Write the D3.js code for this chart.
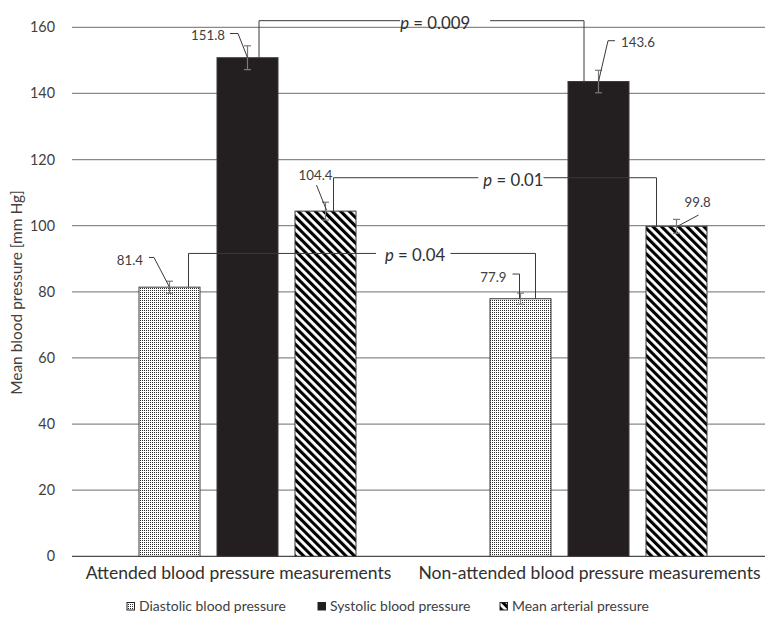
<!DOCTYPE html>
<html>
<head>
<meta charset="utf-8">
<script src="https://cdn.jsdelivr.net/npm/d3@7/dist/d3.min.js"></script>
<style>
  html, body { margin: 0; padding: 0; background: #fff; }
  svg { display: block; font-family: Lato, "Open Sans", sans-serif; }
</style>
</head>
<body>
<svg id="chart" width="765" height="617"></svg>
<script>
// ---------------- data ----------------
const categories = ["Attended blood pressure measurements", "Non-attended blood pressure measurements"];
const seriesNames = ["Diastolic blood pressure", "Systolic blood pressure", "Mean arterial pressure"];
const diastolic = [81.4, 77.9];
const systolic = [150.8, 143.6];
const meanArterial = [104.4, 99.8];
const diastolicErr = [1.8, 1.7];
const systolicErr = [3.6, 3.4];
const meanArterialErr = [2.7, 2.1];
const diastolicLabels = ["81.4", "77.9"];
const systolicLabels = ["151.8", "143.6"];
const meanArterialLabels = ["104.4", "99.8"];
const yTicks = [0, 20, 40, 60, 80, 100, 120, 140, 160];
const pLabels = ["0.04", "0.009", "0.01"];
const pSeries = ["Diastolic blood pressure", "Systolic blood pressure", "Mean arterial pressure"];
const yTitle = "Mean blood pressure [mm Hg]";

// ---------------- layout ----------------
const W = 765, H = 617;
const svg = d3.select("#chart");

const x0 = d3.scaleBand().domain(categories).range([72, 774]).padding(0);
const bw = x0.bandwidth();
const x1 = d3.scaleBand().domain(seriesNames)
  .range([bw / 2 - 117, bw / 2 + 117]).paddingInner(17 / 78).paddingOuter(17 / 156);
const y = d3.scaleLinear().domain([0, 160]).range([556.3, 27.3]);

const values = { [seriesNames[0]]: diastolic, [seriesNames[1]]: systolic, [seriesNames[2]]: meanArterial };
const errs = { [seriesNames[0]]: diastolicErr, [seriesNames[1]]: systolicErr, [seriesNames[2]]: meanArterialErr };
const labels = { [seriesNames[0]]: diastolicLabels, [seriesNames[1]]: systolicLabels, [seriesNames[2]]: meanArterialLabels };

const rows = [];
categories.forEach((c, ci) => seriesNames.forEach((s, si) => rows.push({
  cat: c, ci, ser: s, si, v: values[s][ci], e: errs[s][ci], label: labels[s][ci]
})));
const cx = d => x0(d.cat) + x1(d.ser) + x1.bandwidth() / 2;

// ---------------- patterns ----------------
const defs = svg.append("defs");
const dots = defs.append("pattern").attr("id", "dots").attr("patternUnits", "userSpaceOnUse")
  .attr("width", 2).attr("height", 2);
dots.append("rect").attr("width", 2).attr("height", 2).attr("fill", "#fff");
dots.append("rect").attr("width", 1).attr("height", 1).attr("fill", "#2a2a2a");

const hatch = defs.append("pattern").attr("id", "hatch").attr("patternUnits", "userSpaceOnUse")
  .attr("width", 6).attr("height", 6).attr("patternTransform", "rotate(-45)");
hatch.append("rect").attr("width", 6).attr("height", 6).attr("fill", "#fff");
hatch.append("rect").attr("width", 3.1).attr("height", 6).attr("fill", "#000");

const fills = { [seriesNames[0]]: "url(#dots)", [seriesNames[1]]: "#231f20", [seriesNames[2]]: "url(#hatch)" };

function fit(sel, target) {
  const w = sel.node().getComputedTextLength();
  const fs = parseFloat(sel.attr("font-size"));
  return fs * target / w;
}

// ---------------- grid + y ticks ----------------
const grid = svg.append("g");
grid.selectAll("line").data(yTicks).join("line")
  .attr("x1", 72).attr("x2", W)
  .attr("y1", d => y(d)).attr("y2", d => y(d))
  .attr("stroke", d => d === 0 ? "#4a4a4a" : "#8a8a8a")
  .attr("stroke-width", 1.3);

const tickG = svg.append("g");
const tickTexts = tickG.selectAll("text").data(yTicks).join("text")
  .attr("x", 55).attr("y", d => y(d)).attr("dy", "0.35em")
  .attr("text-anchor", "end").attr("fill", "#404040").attr("font-size", 14)
  .text(d => d);
const tickFs = fit(tickTexts.filter(d => d === 120), 25);
tickTexts.attr("font-size", tickFs);

// y title
const yt = svg.append("text")
  .attr("transform", `translate(17,${(190 + 395) / 2}) rotate(-90)`)
  .attr("text-anchor", "middle").attr("dy", "0.35em")
  .attr("fill", "#404040").attr("font-size", 13).text(yTitle);
yt.attr("font-size", fit(yt, 205));

// ---------------- bars ----------------
svg.append("g").selectAll("rect").data(rows).join("rect")
  .attr("x", d => x0(d.cat) + x1(d.ser))
  .attr("width", x1.bandwidth())
  .attr("y", d => y(d.v))
  .attr("height", d => y(0) - y(d.v))
  .attr("fill", d => fills[d.ser])
  .attr("stroke", "#3a3a3a").attr("stroke-width", 1);

// ---------------- error bars ----------------
const eb = svg.append("g").attr("stroke", "#7a7a7a").attr("stroke-width", 1.2);
rows.forEach(d => {
  const c = cx(d), t = y(d.v + d.e), b = y(d.v - d.e);
  eb.append("line").attr("x1", c).attr("x2", c).attr("y1", t).attr("y2", b);
  eb.append("line").attr("x1", c - 3.5).attr("x2", c + 3.5).attr("y1", t).attr("y2", t);
  eb.append("line").attr("x1", c - 3.5).attr("x2", c + 3.5).attr("y1", b).attr("y2", b);
});

// ---------------- value labels with leaders ----------------
// offsets relative to (bar centre, bar top)
const labelLayout = {
  "0-0": { anchor: "end", dx: -26.5, dy: -26.7, leader: [[-20.5, -29.7], [-15.5, -29.7], [0, 0]] },
  "0-1": { anchor: "end", dx: -22.5, dy: -22.7, leader: [[-17.5, -24.2], [-9.5, -24.2], [0, 0]] },
  "0-2": { anchor: "end", dx: 7, dy: -36, leader: [[-9, -26], [1, -1]] },
  "1-0": { anchor: "end", dx: -14, dy: -21.7, leader: [[-8, -24.7], [-1, -24.7], [-1, 0]] },
  "1-1": { anchor: "start", dx: 22.5, dy: -39.5, leader: [[16.5, -40.8], [9.5, -40.8], [0, 0]] },
  "1-2": { anchor: "start", dx: 8, dy: -24.3, leader: [[22, -11.3], [1, 0]] }
};
const lab = svg.append("g");
const labTexts = [];
rows.forEach(d => {
  const L = labelLayout[d.ci + "-" + d.si];
  const c = cx(d), t = y(d.v);
  lab.append("path")
    .attr("d", d3.line()(L.leader.map(p => [c + p[0], t + p[1]])))
    .attr("fill", "none").attr("stroke", "#3a3a3a").attr("stroke-width", 1);
  const tx = lab.append("text").attr("x", c + L.dx).attr("y", t + L.dy).attr("dy", "0.35em")
    .attr("text-anchor", L.anchor).attr("fill", "#404040").attr("font-size", 12).text(d.label);
  labTexts.push({ d, tx });
});
const labFs = fit(labTexts.find(o => o.d.label === "151.8").tx, 34);
labTexts.forEach(o => o.tx.attr("font-size", labFs));

// ---------------- significance brackets ----------------
const bracketLayout = [
  { level: 91.6, off: [19, 15], t: 0.653, gap: [9, 5] },
  { level: 162.0, off: [11.5, -14.5], t: 0.542, gap: [0, 20] },
  { level: 114.5, off: [8, -20], t: 0.557, gap: [5, 0] }
];
const br = svg.append("g");
const pTexts = [];
pLabels.forEach((p, i) => {
  const s = pSeries[i], L = bracketLayout[i];
  const a = rows.find(r => r.ser === s && r.ci === 0), b = rows.find(r => r.ser === s && r.ci === 1);
  const xa = cx(a) + L.off[0], xb = cx(b) + L.off[1], yl = y(L.level);
  const xm = xa + (xb - xa) * L.t;
  const tx = br.append("text").attr("x", xm).attr("y", yl + 2).attr("dy", "0.35em")
    .attr("text-anchor", "middle").attr("fill", "#303030").attr("font-size", 16);
  tx.append("tspan").attr("font-style", "italic").text("p");
  tx.append("tspan").text(" = " + p);
  pTexts.push({ tx, xa, xb, yl, ya: y(a.v), yb: y(b.v), L });
});
const pFs = fit(pTexts[1].tx, 70);
pTexts.forEach(o => {
  o.tx.attr("font-size", pFs);
  const bb = o.tx.node().getBBox();
  br.append("path")
    .attr("d", d3.line()([[o.xa, o.ya], [o.xa, o.yl], [bb.x - o.L.gap[0], o.yl]]))
    .attr("fill", "none").attr("stroke", "#3a3a3a").attr("stroke-width", 1);
  br.append("path")
    .attr("d", d3.line()([[bb.x + bb.width + o.L.gap[1], o.yl], [o.xb, o.yl], [o.xb, o.yb]]))
    .attr("fill", "none").attr("stroke", "#3a3a3a").attr("stroke-width", 1);
});

// ---------------- category labels ----------------
const catTexts = svg.append("g").selectAll("text").data(categories).join("text")
  .attr("x", d => x0(d) + bw / 2 - 9).attr("y", 573).attr("dy", "0.35em")
  .attr("text-anchor", "middle").attr("fill", "#303030").attr("font-size", 16)
  .text(d => d);
const catFs = fit(catTexts.filter((d, i) => i === 0), 306);
catTexts.attr("font-size", catFs);

// ---------------- legend ----------------
const legendX = [127, 318, 500];
const lg = svg.append("g");
const legTexts = [];
seriesNames.forEach((s, i) => {
  lg.append("rect").attr("x", legendX[i]).attr("y", 602.5).attr("width", 7.5).attr("height", 7.5)
    .attr("fill", fills[s]).attr("stroke", "#222").attr("stroke-width", 1);
  legTexts.push(lg.append("text").attr("x", legendX[i] + 12).attr("y", 606.3).attr("dy", "0.35em")
    .attr("fill", "#404040").attr("font-size", 12).text(s));
});
const legFs = fit(legTexts[0], 147);
legTexts.forEach(t => t.attr("font-size", legFs));
</script>
</body>
</html>
